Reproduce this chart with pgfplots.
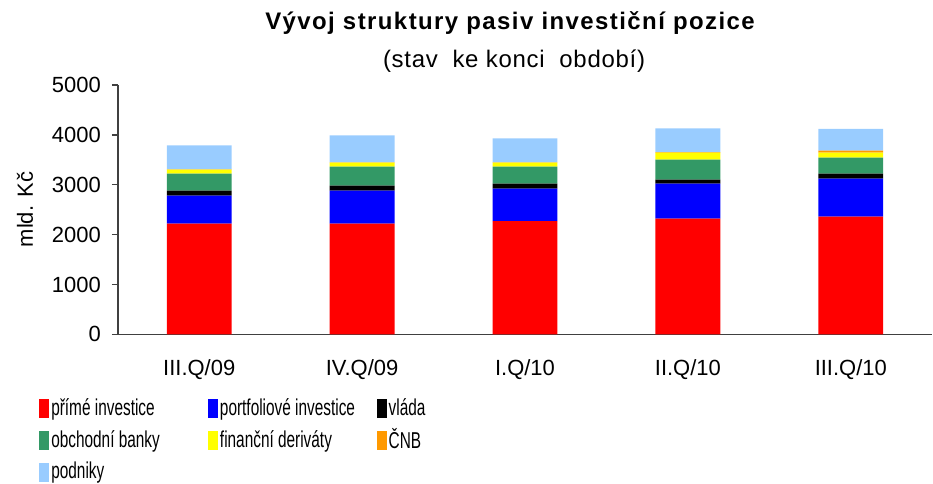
\documentclass[border=0pt]{standalone}
\usepackage{pgfplots}
\pgfplotsset{compat=1.18}
\usepackage{fontspec}
\setmainfont{Liberation Sans}
\newfontfamily\legfont[FakeStretch=0.67]{Liberation Sans}
\newfontfamily\titlefont[LetterSpace=6]{Liberation Sans}
\newfontfamily\subfont[LetterSpace=3]{Liberation Sans}
\definecolor{cred}{HTML}{FF0000}
\definecolor{cblue}{HTML}{0000FF}
\definecolor{cgreen}{HTML}{339966}
\definecolor{cyellow}{HTML}{FFFF00}
\definecolor{corange}{HTML}{FF9900}
\definecolor{clight}{HTML}{99CCFF}
\definecolor{axgray}{HTML}{404040}
\begin{document}
\begin{tikzpicture}[font=\fontsize{11}{13}\selectfont]
\path (-59pt,-74.5pt) rectangle (407.5pt,167.5pt);
\begin{axis}[
  at={(0,0)}, anchor=south west,
  scale only axis, width=408pt, height=125pt,
  ybar stacked, bar width=32.5pt,
  xmin=-0.5, xmax=4.5, ymin=0, ymax=5000,
  ytick={0,1000,...,5000},
  xtick={0,...,4},
  xticklabels={III.Q/09,IV.Q/09,I.Q/10,II.Q/10,III.Q/10},
  x tick style={draw=none},
  extra x ticks={0.5,1.5,2.5,3.5},
  extra x tick labels={},
  extra x tick style={tick style={draw=axgray, thick}, major tick length=3.5pt},
  y tick style={draw=axgray, thick},
  tick align=outside, major tick length=3pt,
  axis x line*=bottom, axis y line*=left,
  axis line style={draw=axgray, thick, -},
  /pgf/number format/assume math mode=true,
  /pgf/number format/1000 sep={},
  xticklabel style={yshift=-6pt},
  yticklabel style={xshift=-2pt},
  legend columns=3,
  legend style={draw=none, at={(-39.5pt,-36.5pt)}, anchor=north west, yshift=5.5pt,
    inner sep=0pt, row sep=3.2pt, column sep=0pt,
    font=\fontsize{11.5}{13}\legfont,
    nodes={inner sep=1pt, anchor=west}},
  legend image code/.code={\fill[#1] (0pt,-4.75pt) rectangle (5pt,4.75pt);},
  legend cell align=left,
]
\addplot[fill=cred, draw=none] coordinates {(0,2220) (1,2220) (2,2267) (3,2320) (4,2360)};
\addlegendentry{\makebox[77.5pt][l]{přímé investice}}
\addplot[fill=cblue, draw=none] coordinates {(0,560) (1,660) (2,653) (3,700) (4,760)};
\addlegendentry{\makebox[77.5pt][l]{portfoliové investice}}
\addplot[fill=black, draw=none] coordinates {(0,100) (1,100) (2,100) (3,80) (4,100)};
\addlegendentry{\makebox[77.5pt][l]{vláda}}
\addplot[fill=cgreen, draw=none] coordinates {(0,340) (1,380) (2,340) (3,400) (4,320)};
\addlegendentry{\makebox[77.5pt][l]{obchodní banky}}
\addplot[fill=cyellow, draw=none] coordinates {(0,80) (1,80) (2,80) (3,140) (4,100)};
\addlegendentry{\makebox[77.5pt][l]{finanční deriváty}}
\addplot[fill=corange, draw=none] coordinates {(0,5) (1,5) (2,5) (3,10) (4,40)};
\addlegendentry{\makebox[77.5pt][l]{ČNB}}
\addplot[fill=clight, draw=none] coordinates {(0,480) (1,540) (2,480) (3,480) (4,440)};
\addlegendentry{\makebox[77.5pt][l]{podniky}}
\end{axis}
\node[font=\fontsize{12}{14}\titlefont\bfseries] at (196.5pt,156pt) {Vývoj struktury pasiv investiční pozice};
\node[font=\fontsize{12}{14}\subfont] at (198.5pt,137pt) {(stav\ \ ke konci\ \ období)};
\node[rotate=90] at (-46.5pt,62.5pt) {mld. Kč};
\end{tikzpicture}
\end{document}
